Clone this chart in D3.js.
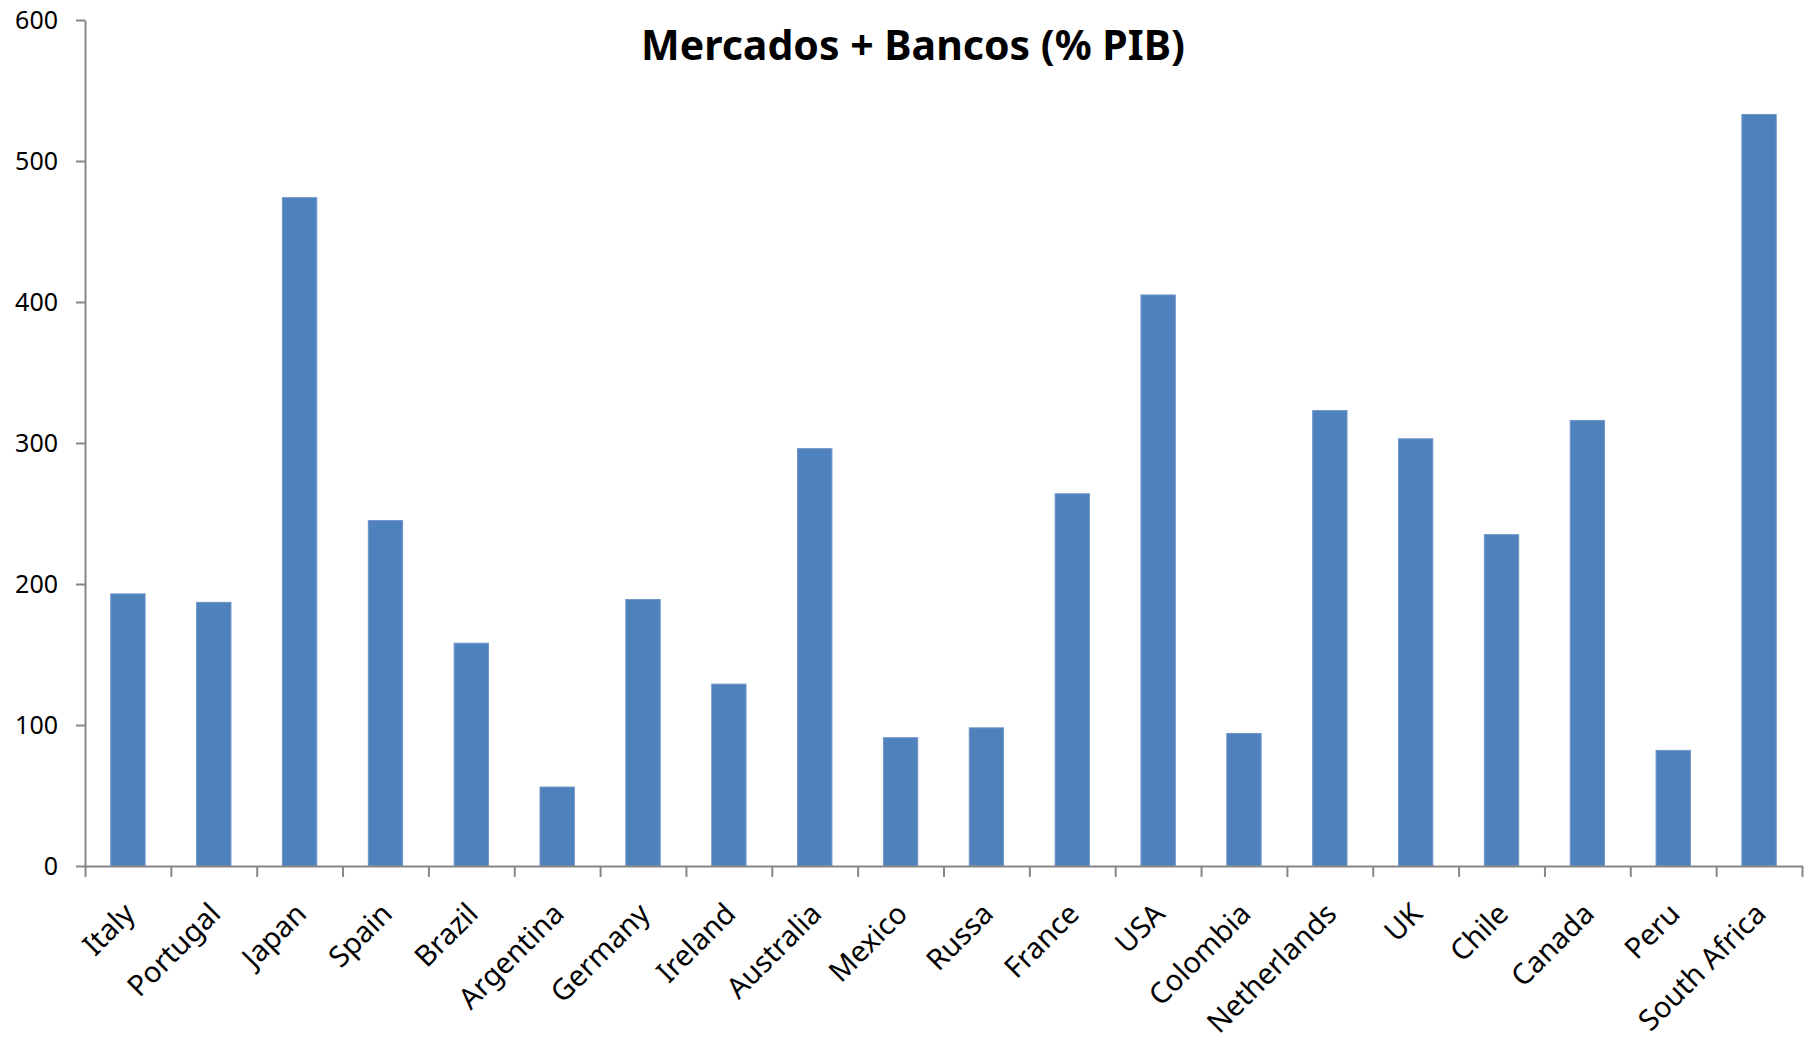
<!DOCTYPE html>
<html>
<head>
<meta charset="utf-8">
<script src="https://cdn.jsdelivr.net/npm/d3@7"></script>
<style>
  body { margin: 0; background: white; }
  svg { display: block; }
</style>
</head>
<body>
<svg id="chart" width="1814" height="1044"></svg>
<script>
// data
const countries = ["Italy", "Portugal", "Japan", "Spain", "Brazil", "Argentina", "Germany",
    "Ireland", "Australia", "Mexico", "Russa", "France", "USA", "Colombia", "Netherlands",
    "UK", "Chile", "Canada", "Peru", "South Africa"]
const values = [193, 187, 474, 245, 158, 56, 189, 129, 296, 91, 98, 264, 405, 94, 323,
    303, 235, 316, 82, 533]
const yTicks = [0, 100, 200, 300, 400, 500, 600]
const title = "Mercados + Bancos (% PIB)"

const svg = d3.select("#chart")
const LEFT = 85, RIGHT = 1802, TOP = 20, BOTTOM = 866
const AXIS_COLOR = "#868686"
const FONT = "'Noto Sans', 'Open Sans', sans-serif"

let xs = d3.scaleBand()
    .domain(countries)
    .range([LEFT, RIGHT])
    .paddingInner(0.6)
    .paddingOuter(0.3)

let ys = d3.scaleLinear()
    .domain([0, 600])
    .range([BOTTOM, TOP])

// bars
svg.selectAll("rect.bar")
    .data(countries)
    .enter()
    .append("rect")
    .classed("bar", true)
    .attr("x", d => xs(d))
    .attr("y", (d, i) => ys(values[i]))
    .attr("width", xs.bandwidth())
    .attr("height", (d, i) => ys(0) - ys(values[i]))
    .style("fill", "#4F81BD")
    .style("stroke", "#7096c8")
    .style("stroke-width", 1)

// y axis
let yAxis = svg.append("g")
    .attr("transform", `translate(${LEFT},0)`)
    .call(d3.axisLeft(ys).tickValues(yTicks).tickSize(9).tickSizeOuter(0).tickPadding(18))
yAxis.select(".domain").attr("stroke", AXIS_COLOR).attr("stroke-width", 2)
yAxis.selectAll(".tick line").attr("stroke", AXIS_COLOR).attr("stroke-width", 2)
yAxis.selectAll(".tick text")
    .style("font-family", FONT)
    .style("font-size", "25px")
    .style("fill", "#000")

// x axis: ticks sit on the category boundaries
let xTickScale = d3.scaleLinear().domain([0, countries.length]).range([LEFT, RIGHT])
let xAxis = svg.append("g")
    .attr("transform", `translate(0,${BOTTOM})`)
    .call(d3.axisBottom(xTickScale).tickValues(d3.range(countries.length + 1)).tickSize(11).tickSizeOuter(0).tickFormat(""))
xAxis.select(".domain").attr("stroke", AXIS_COLOR).attr("stroke-width", 2)
xAxis.selectAll(".tick line").attr("stroke", AXIS_COLOR).attr("stroke-width", 2)

// category labels, rotated
svg.append("g")
    .selectAll("text")
    .data(countries)
    .enter()
    .append("text")
    .text(d => d)
    .attr("transform", d => `translate(${xs(d) + xs.bandwidth() / 2 - 6},${BOTTOM + 35}) rotate(-45)`)
    .attr("dy", "0.71em")
    .style("text-anchor", "end")
    .style("font-family", FONT)
    .style("font-size", "29px")
    .style("fill", "#000")

// title
svg.append("text")
    .text(title)
    .attr("x", 913)
    .attr("y", 60)
    .style("text-anchor", "middle")
    .style("font-family", FONT)
    .style("font-weight", "bold")
    .style("font-size", "41px")
    .style("fill", "#000")
</script>
</body>
</html>
